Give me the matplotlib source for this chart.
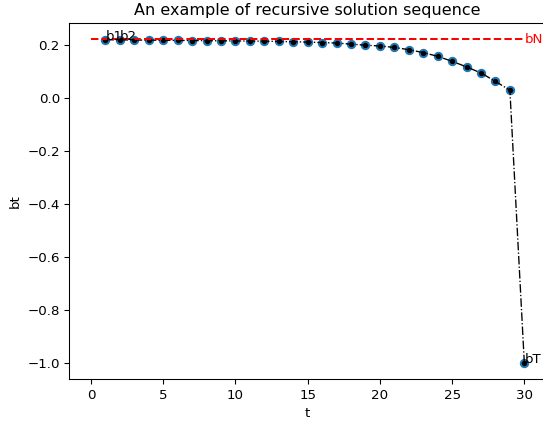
import matplotlib
matplotlib.use("Agg")
import matplotlib.pyplot as plt
import numpy as np

t = list(range(1, 31))
bt = [0.2215, 0.221, 0.2205, 0.220, 0.2195, 0.219, 0.2185, 0.218, 0.2175, 0.217,
      0.2165, 0.216, 0.215, 0.214, 0.2125, 0.211, 0.209, 0.205, 0.201, 0.198,
      0.1925, 0.184, 0.173, 0.159, 0.140, 0.119, 0.096, 0.064, 0.031, -1.0]
bN = 0.2225
T = 30

DPI = 96
W, H = 543, 423
fig = plt.figure(figsize=(W / DPI, H / DPI), dpi=DPI)
left_px, right_px = 69.3, 546.0
bottom_px, top_px = 379.3, 23.3
ax = fig.add_axes([left_px / W, (H - bottom_px) / H,
                   (right_px - left_px) / W, (bottom_px - top_px) / H])

ax.scatter(t, bt, color="C0")
ax.plot(t, bt, color="k", linestyle="-.", marker=".", linewidth=1)
ax.hlines(bN, 0, T, colors="r", linestyles="--")

ax.text(t[0], bt[0], "b1")
ax.text(t[1], bt[1], "b2")
ax.text(t[-1], bt[-1], "bT")
ax.text(T, bN, "bN", color="r", va="center")

ax.set_title("An example of recursive solution sequence")
ax.set_xlabel("t")
ax.set_ylabel("bt")

fig.savefig("out.png", dpi=DPI)
